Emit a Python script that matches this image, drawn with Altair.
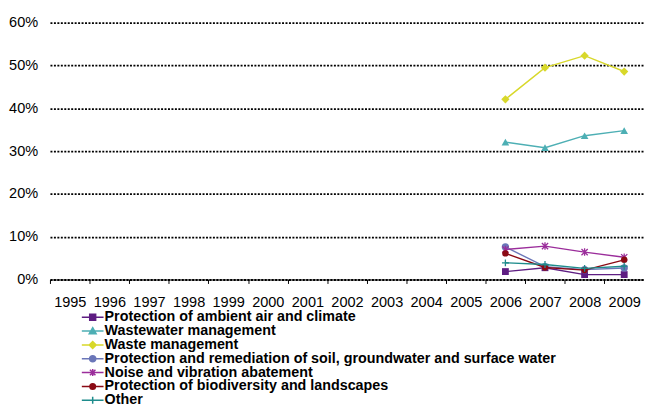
import altair as alt
import pandas as pd

years = [str(y) for y in range(1995, 2010)]
data_years = ["2006", "2007", "2008", "2009"]

series = [
    "Protection of ambient air and climate",
    "Wastewater management",
    "Waste management",
    "Protection and remediation of soil, groundwater and surface water",
    "Noise and vibration abatement",
    "Protection of biodiversity and landscapes",
    "Other",
]
ambient = [1.85, 2.75, 1.15, 1.15]
wastewater = [32.1, 30.8, 33.6, 34.8]
waste = [42.1, 49.5, 52.3, 48.6]
soil = [7.6, 3.0, 2.3, 2.7]
noise = [7.0, 7.8, 6.4, 5.2]
biodiv = [6.1, 2.8, 2.2, 4.6]
other = [3.9, 3.5, 2.6, 3.1]
values = [ambient, wastewater, waste, soil, noise, biodiv, other]

colors = ["#5E1D82", "#4DAFB4", "#D8D82A", "#6A76B8", "#9B2D9B", "#8A0A14", "#1E8C8C"]

ASTER = "M-1,-1L1,1M-1,1L1,-1M0,-1.2V1.2"
PLUS = "M-1,0H1M0,-1V1"
chart_shapes = ["square", "triangle-up", "diamond", "circle", ASTER, "circle", PLUS]
chart_sizes = [48, 60, 70, 55, 40, 42, 48]
chart_filled = [True, True, True, True, False, True, False]

L = "M-3.14,0H3.14"
legend_shapes = [
    L + "M-0.86,-0.86H0.86V0.86H-0.86Z",
    L + "M0,-1L1,0.75H-1Z",
    L + "M0,-1L1,0L0,1L-1,0Z",
    L + "M-0.9,0A0.9,0.9 0 1,0 0.9,0A0.9,0.9 0 1,0 -0.9,0Z",
    L + "M-0.8,-0.8L0.8,0.8M-0.8,0.8L0.8,-0.8M0,-1V1",
    L + "M-0.8,0A0.8,0.8 0 1,0 0.8,0A0.8,0.8 0 1,0 -0.8,0Z",
    L + "M0,-1V1",
]

rows = []
for s, vals in zip(series, values):
    for yr, v in zip(data_years, vals):
        rows.append({"series": s, "year": yr, "value": v / 100})
df = pd.DataFrame(rows)

x_enc = alt.X(
    "year:O",
    scale=alt.Scale(type="band", domain=years, paddingInner=0, paddingOuter=0),
    axis=alt.Axis(
        title=None, labelAngle=0, tickBand="extent", tickSize=4, tickColor="#000000",
        domainColor="#000000", domainWidth=1, labelPadding=11, grid=False,
        labelFont="Liberation Sans", labelFontSize=14.7, labelColor="#000000",
    ),
)
y_enc = alt.Y(
    "value:Q",
    scale=alt.Scale(domain=[0, 0.6], nice=False, zero=True),
    axis=alt.Axis(
        title=None, values=[0, 0.1, 0.2, 0.3, 0.4, 0.5, 0.6], format=".0%",
        domain=False, ticks=False, labelPadding=12.5, grid=True,
        gridColor="#000000", gridDash=[2, 1.5], gridWidth=1.8,
        labelFont="Liberation Sans", labelFontSize=14.7, labelColor="#000000",
    ),
)

base = alt.Chart(df)
layers = []
for i, s in enumerate(series):
    sub = base.transform_filter(alt.datum.series == s)
    layers.append(sub.mark_line(color=colors[i], strokeWidth=1.4).encode(x=x_enc, y=y_enc))
    if chart_filled[i]:
        pm = sub.mark_point(shape=chart_shapes[i], size=chart_sizes[i], filled=True,
                            color=colors[i], opacity=1)
    else:
        pm = sub.mark_point(shape=chart_shapes[i], size=chart_sizes[i], filled=False,
                            color=colors[i], strokeWidth=1.3, opacity=1)
    layers.append(pm.encode(x=x_enc, y=y_enc))

leg = alt.Legend(
    title=None, orient="none", legendX=36, legendY=291,
    labelFont="Liberation Sans", labelFontWeight="bold", labelFontSize=14.5,
    labelColor="#000000", labelLimit=700, labelOffset=4.8,
    symbolSize=49, symbolStrokeWidth=1.5, rowPadding=-1.0,
)
legend_layer = base.transform_filter("false").mark_point(filled=True, opacity=1).encode(
    x=x_enc, y=y_enc,
    fill=alt.Fill("series:N", scale=alt.Scale(domain=series, range=colors), legend=leg),
    stroke=alt.Stroke("series:N", scale=alt.Scale(domain=series, range=colors), legend=leg),
    shape=alt.Shape("series:N", scale=alt.Scale(domain=series, range=legend_shapes), legend=leg),
)
layers.append(legend_layer)

chart = alt.layer(*layers).properties(
    width=601.5, height=260,
    padding={"left": 42.5, "top": 12.4, "right": 0, "bottom": 126.6},
    autosize=alt.AutoSizeParams(type="none"),
    background="#ffffff",
).configure_view(stroke=None)

chart.save("out.html", embed_options={"renderer": "svg", "actions": False})
